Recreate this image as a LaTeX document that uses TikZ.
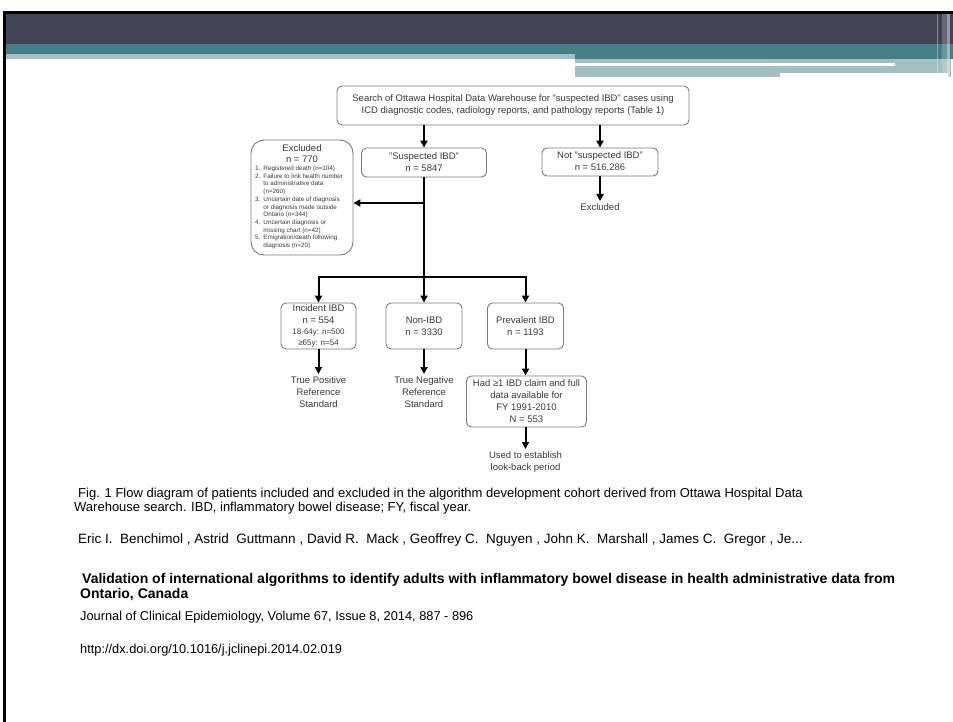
\documentclass[tikz,border=0pt]{standalone}
\usepackage{fontspec}
\setmainfont{Liberation Sans}
\usetikzlibrary{arrows.meta}
\definecolor{hdark}{HTML}{434356}
\definecolor{hteal}{HTML}{457E84}
\definecolor{hlight}{HTML}{A2BFC2}
\definecolor{txt}{HTML}{3A3A3A}
\definecolor{bord}{HTML}{7A7A7A}
\newcommand{\fsz}[2]{\fontsize{#1}{#2}\selectfont}
\newcommand{\smalltx}{\fsz{8}{10}}
\begin{document}
\begin{tikzpicture}[x=1pt,y=-1pt,
  fbox/.style={draw=bord, line width=0.9pt, rounded corners=5pt, fill=white, text=txt, align=center, font=\fsz{9.5}{12}, inner sep=0pt},
  flab/.style={text=txt, align=center, font=\fsz{9.5}{12}, inner sep=2pt},
  arr/.style={draw=black, line width=2pt, -{Triangle[length=7pt,width=7pt]}},
  seg/.style={draw=black, line width=2pt},
  foot/.style={anchor=base west, inner sep=0pt, text=black, font=\fsz{13}{15}}
]
\useasboundingbox (0,0) rectangle (953,722);
\fill[white] (0,0) rectangle (953,722);
% header
\fill[black] (3,11) rectangle (953,14);
\fill[black] (3,11) rectangle (5.5,722);
\fill[hdark] (5.5,14) rectangle (953,44);
\fill[hteal] (5.5,44) rectangle (953,54);
\fill[hteal] (575,54) rectangle (953,59);
\fill[hlight] (5.5,54) rectangle (575,59);
\fill[hlight] (575,59) rectangle (948,73);
\fill[hlight] (575,73) rectangle (780,77);
\fill[white] (575,63.5) rectangle (895,66);
\fill[hlight] (948,59) rectangle (951,77);
\fill[white,opacity=0.35] (937,14) rectangle (938,73);
\fill[white,opacity=0.2] (942,14) rectangle (947,73);
\fill[white,opacity=0.45] (947,14) rectangle (950,77);

% flowchart boxes
\node[fbox, minimum width=352, minimum height=39] (search) at (513,105.5)
  {Search of Ottawa Hospital Data Warehouse for "suspected IBD" cases using\\ICD diagnostic codes, radiology reports, and pathology reports (Table 1)};
\node[fbox, minimum width=125, minimum height=29] (susp) at (424,162.5) {"Suspected IBD"\\n = 5847};
\node[fbox, minimum width=116, minimum height=28] (notsusp) at (600,162) {Not "suspected IBD"\\n = 516,286};
\node[flab, anchor=north] (excl2) at (600,201) {Excluded};

\node[fbox, rounded corners=13pt, minimum width=102, minimum height=115] (excl) at (302,197.5) {};
\node[flab, font=\fsz{9.5}{11}] (exhead) at (302,154) {Excluded\\n = 770};
\node[anchor=north west, inner sep=0pt, text=txt, font=\fsz{6.3}{7.7}] (exlist) at (255,165)
  {\begin{tabular}{@{}l@{\hspace{3pt}}l@{}}
   1. & Registered death (n=104)\\
   2. & Failure to link health number\\
      & to administrative data\\
      & (n=260)\\
   3. & Uncertain date of diagnosis\\
      & or diagnosis made outside\\
      & Ontario (n=344)\\
   4. & Uncertain diagnosis or\\
      & missing chart (n=42)\\
   5. & Emigration/death following\\
      & diagnosis (n=20)
   \end{tabular}};

\node[fbox, minimum width=75, minimum height=46] (inc) at (318.5,326)
  {Incident IBD\\n = 554\\[-1.5pt]\smalltx 18-64y: n=500\\[-0.5pt]\smalltx ≥65y: n=54};
\node[fbox, minimum width=76, minimum height=46] (non) at (424,326) {Non-IBD\\n = 3330};
\node[fbox, minimum width=76, minimum height=46] (prev) at (525.5,326) {Prevalent IBD\\n = 1193};
\node[fbox, minimum width=120, minimum height=51] (had) at (526.5,401.5)
  {Had ≥1 IBD claim and full\\data available for\\FY 1991-2010\\N = 553};

\node[flab, anchor=north] (tp) at (318.5,374) {True Positive\\Reference\\Standard};
\node[flab, anchor=north] (tn) at (424,374) {True Negative\\Reference\\Standard};
\node[flab, anchor=north] (used) at (525.5,449) {Used to establish\\look-back period};

% connectors
\coordinate (j1) at (424,203);
\coordinate (j2) at (424,277);
\draw[arr] (search.south -| susp) -- (susp.north);
\draw[arr] (search.south -| notsusp) -- (notsusp.north);
\draw[arr] (notsusp.south) -- (excl2.north);
\draw[arr] (susp.south) -- (non.north);
\draw[arr] (j1) -- (j1 -| excl.east);
\draw[seg, line cap=rect] (j2 -| inc.north) -- (j2 -| prev.north);
\draw[arr] (j2 -| inc.north) -- (inc.north);
\draw[arr] (j2 -| prev.north) -- (prev.north);
\draw[arr] (inc.south) -- (tp.north);
\draw[arr] (non.south) -- (tn.north);
\draw[arr] (prev.south) -- (prev.south |- had.north);
\draw[arr] (had.south -| used) -- (used.north);

% caption and reference
\node[foot] (cap1) at (78,497) {Fig. 1 Flow diagram of patients included and excluded in the algorithm development cohort derived from Ottawa Hospital Data};
\node[foot] (cap2) at (74,511) {Warehouse search. IBD, inflammatory bowel disease; FY, fiscal year.};
\node[foot, font=\fsz{13.5}{15}] (auth) at (78,543) {Eric I.\ \ Benchimol , Astrid\ \ Guttmann , David R.\ \ Mack , Geoffrey C.\ \ Nguyen , John K.\ \ Marshall , James C.\ \ Gregor , Je...};
\node[foot, font=\fsz{14}{16}\bfseries] (tit1) at (82,583) {Validation of international algorithms to identify adults with inflammatory bowel disease in health administrative data from};
\node[foot, font=\fsz{14}{16}\bfseries] (tit2) at (80,598) {Ontario, Canada};
\node[foot, font=\fsz{12.8}{15}] (jour) at (80,620) {Journal of Clinical Epidemiology, Volume 67, Issue 8, 2014, 887 - 896};
\node[foot, font=\fsz{12.8}{15}] (doi) at (80,653) {http://dx.doi.org/10.1016/j.jclinepi.2014.02.019};
\end{tikzpicture}
\end{document}
